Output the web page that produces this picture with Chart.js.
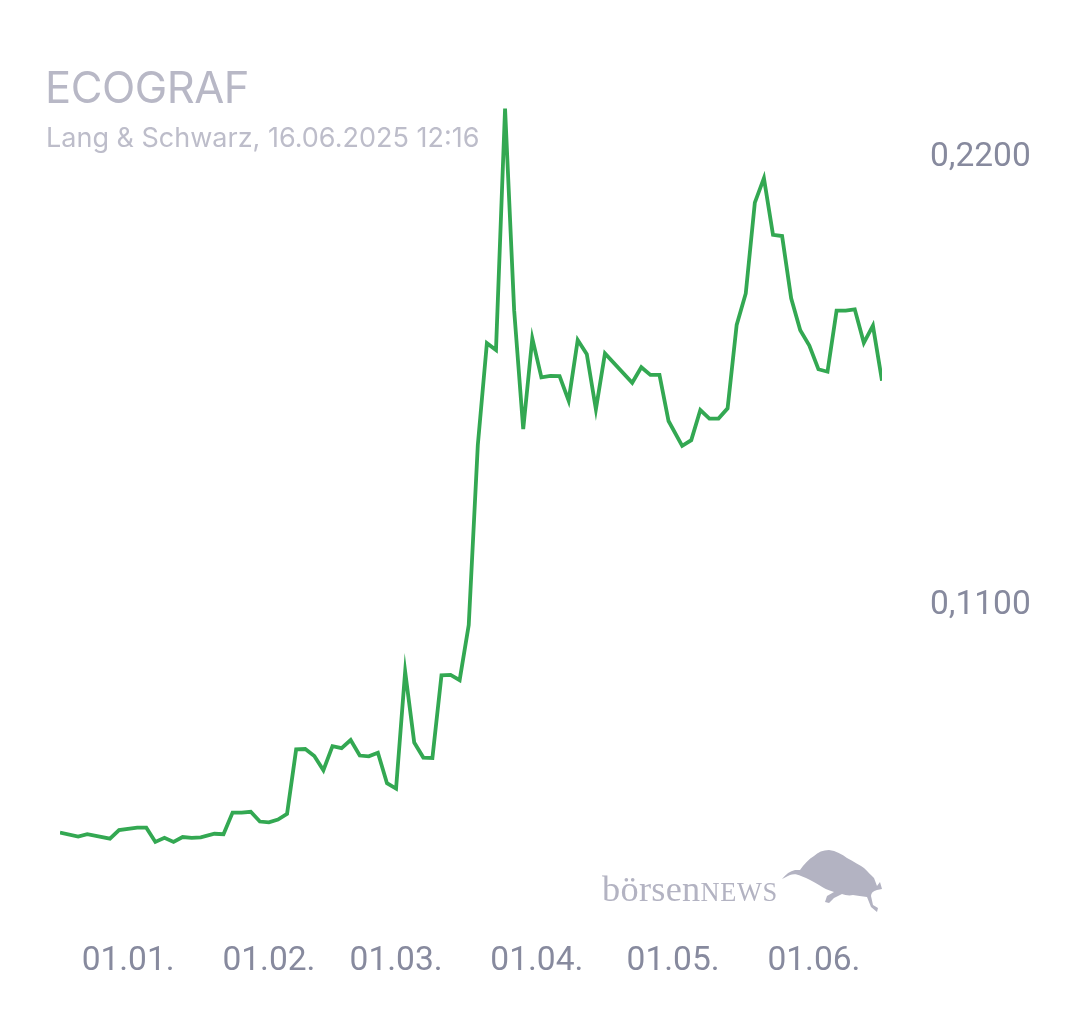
<!DOCTYPE html>
<html>
<head>
<meta charset="utf-8">
<script src="https://cdn.jsdelivr.net/npm/chart.js@4.4.1/dist/chart.umd.min.js"></script>
<style>
  html, body { margin:0; padding:0; background:#ffffff; }
  #wrap { position:relative; width:1080px; height:1013px; overflow:hidden; }
  #c { position:absolute; left:0; top:0; }
  .title { position:absolute; left:45px; top:66px; font-family:Inter, "Open Sans", sans-serif; font-size:43.5px; color:#b8b8c6; letter-spacing:-0.5px; line-height:1; white-space:nowrap; }
  .sub { position:absolute; left:46px; top:124px; font-family:Inter, "Open Sans", sans-serif; font-size:27px; color:#bdbdca; line-height:1; white-space:nowrap; }
  .logo { position:absolute; left:602px; top:871px; font-family:"Liberation Serif","DejaVu Serif",serif; font-size:36.3px; color:#b3b3c2; line-height:1; letter-spacing:0.3px; white-space:nowrap; }
  .logo .caps { font-size:26.4px; letter-spacing:0.6px; }
  #bull { position:absolute; left:0; top:0; }
</style>
</head>
<body>
<div id="wrap">
  <canvas id="c" width="1080" height="1013"></canvas>
  <div class="title">ECOGRAF</div>
  <div class="sub">Lang &amp; Schwarz, 16.06.2025 12:16</div>
  <div class="logo">börsen<span class="caps">NEWS</span></div>
  <svg id="bull" width="1080" height="1013">
    <path fill="#b3b3c2" d="M782,879 C786,874 790,871 795,870 L800,870 C804,864 809,859 814,856 C818,852 823,850 829,850 C836,851 842,854 847,858 C854,862 860,865 864,868 C868,872 871,875 874,878 L877,886 L880,882 L882,889 L877,890 C873,891 871,893 871,896 L873,905 L878,908 L877,912 L871,907 L867,897 C862,896 857,896 853,895 C849,896 845,895 842,894 L834,898 L829,903 L825,902 L827,896 L834,892 C828,890 823,888 819,885 C815,883 811,880 806,878 L801,876 C797,874 793,874 790,875 C787,876 785,878 782,879 Z"/>
  </svg>
</div>
<script>
// ---- data ----
const dates = [
  "2024-12-17","2024-12-21","2024-12-23","2024-12-28","2024-12-30",
  "2025-01-03","2025-01-05","2025-01-07","2025-01-09","2025-01-11","2025-01-13","2025-01-15","2025-01-17",
  "2025-01-20","2025-01-22","2025-01-24","2025-01-26","2025-01-28","2025-01-30",
  "2025-02-01","2025-02-03","2025-02-05","2025-02-07","2025-02-09","2025-02-11","2025-02-13","2025-02-15",
  "2025-02-17","2025-02-19","2025-02-21","2025-02-23","2025-02-25","2025-02-27",
  "2025-03-01","2025-03-03","2025-03-05","2025-03-07","2025-03-09","2025-03-11","2025-03-13","2025-03-15",
  "2025-03-17","2025-03-19","2025-03-21","2025-03-23","2025-03-25","2025-03-27","2025-03-29","2025-03-31",
  "2025-04-02","2025-04-04","2025-04-06","2025-04-08","2025-04-10","2025-04-12","2025-04-14","2025-04-16",
  "2025-04-22","2025-04-24","2025-04-26","2025-04-28","2025-04-30",
  "2025-05-03","2025-05-05","2025-05-07","2025-05-09","2025-05-11","2025-05-13","2025-05-15","2025-05-17",
  "2025-05-19","2025-05-21","2025-05-23","2025-05-25","2025-05-27","2025-05-29","2025-05-31",
  "2025-06-02","2025-06-04","2025-06-06","2025-06-08","2025-06-10","2025-06-12","2025-06-14","2025-06-16"
];
const prices = [
  0.0544,0.0534,0.0540,0.0529,0.0550,
  0.0556,0.0556,0.0521,0.0531,0.0521,0.0533,0.0531,0.0532,
  0.0541,0.0540,0.0593,0.0593,0.0595,0.0571,
  0.0569,0.0576,0.0590,0.0748,0.0749,0.0732,0.0697,0.0756,
  0.0751,0.0771,0.0733,0.0731,0.0740,0.0665,
  0.0652,0.0939,0.0765,0.0728,0.0727,0.0930,0.0931,0.0918,
  0.1053,0.1495,0.1745,0.1728,0.2321,0.1826,0.1534,0.1757,
  0.1661,0.1665,0.1664,0.1604,0.1753,0.1718,0.1583,0.1720,
  0.1648,0.1686,0.1667,0.1667,0.1554,
  0.1493,0.1507,0.1581,0.1560,0.1560,0.1585,0.1790,0.1867,
  0.2090,0.2150,0.2011,0.2008,0.1855,0.1777,0.1739,
  0.1681,0.1675,0.1825,0.1825,0.1828,0.1746,0.1788,0.1653
];
const xTickDates = ["2025-01-01","2025-02-01","2025-03-01","2025-04-01","2025-05-01","2025-06-01"];
const xTickLabels = ["01.01.","01.02.","01.03.","01.04.","01.05.","01.06."];
const yTicks = [0.11, 0.22];

// ---- helpers ----
const ORIGIN = Date.UTC(2025,0,1);
function dayOf(s){ const p=s.split('-').map(Number); return (Date.UTC(p[0],p[1]-1,p[2]) - ORIGIN)/86400000; }
const points = dates.map((d,i)=>({x:dayOf(d), y:prices[i]}));
const xTickDays = xTickDates.map(dayOf);

const tickColor = '#878a9e';
new Chart(document.getElementById('c'), {
  type:'line',
  data:{ datasets:[{ data:points, borderColor:'#33a852', borderWidth:3.8, pointRadius:0, tension:0, fill:false, borderJoinStyle:'miter' }]},
  options:{
    responsive:false, animation:false, devicePixelRatio:1,
    layout:{ padding:{ left:60, top:100, right:0, bottom:0 } },
    plugins:{ legend:{display:false}, tooltip:{enabled:false} },
    scales:{
      x:{
        type:'linear', min:dayOf(dates[0]), max:dayOf(dates[dates.length-1]),
        grid:{ display:false, drawTicks:false }, border:{ display:false },
        afterBuildTicks:(s)=>{ s.ticks = xTickDays.map(v=>({value:v})); },
        afterFit:(s)=>{ s.height = 93; },
        ticks:{ autoSkip:false, maxRotation:0, padding:22, color:tickColor,
          font:{ family:'Roboto', size:33.5 },
          callback:(v,i)=> xTickLabels[i] }
      },
      y:{
        position:'right', min:0.032936, max:0.234186,
        grid:{ display:false, drawTicks:false }, border:{ display:false },
        afterBuildTicks:(s)=>{ s.ticks = yTicks.map(v=>({value:v})); },
        afterFit:(s)=>{ s.width = 198; },
        ticks:{ padding:48, color:tickColor, font:{ family:'Roboto', size:33.5 },
          callback:(v)=> v.toFixed(4).replace('.',',') }
      }
    }
  }
});
</script>
</body>
</html>
